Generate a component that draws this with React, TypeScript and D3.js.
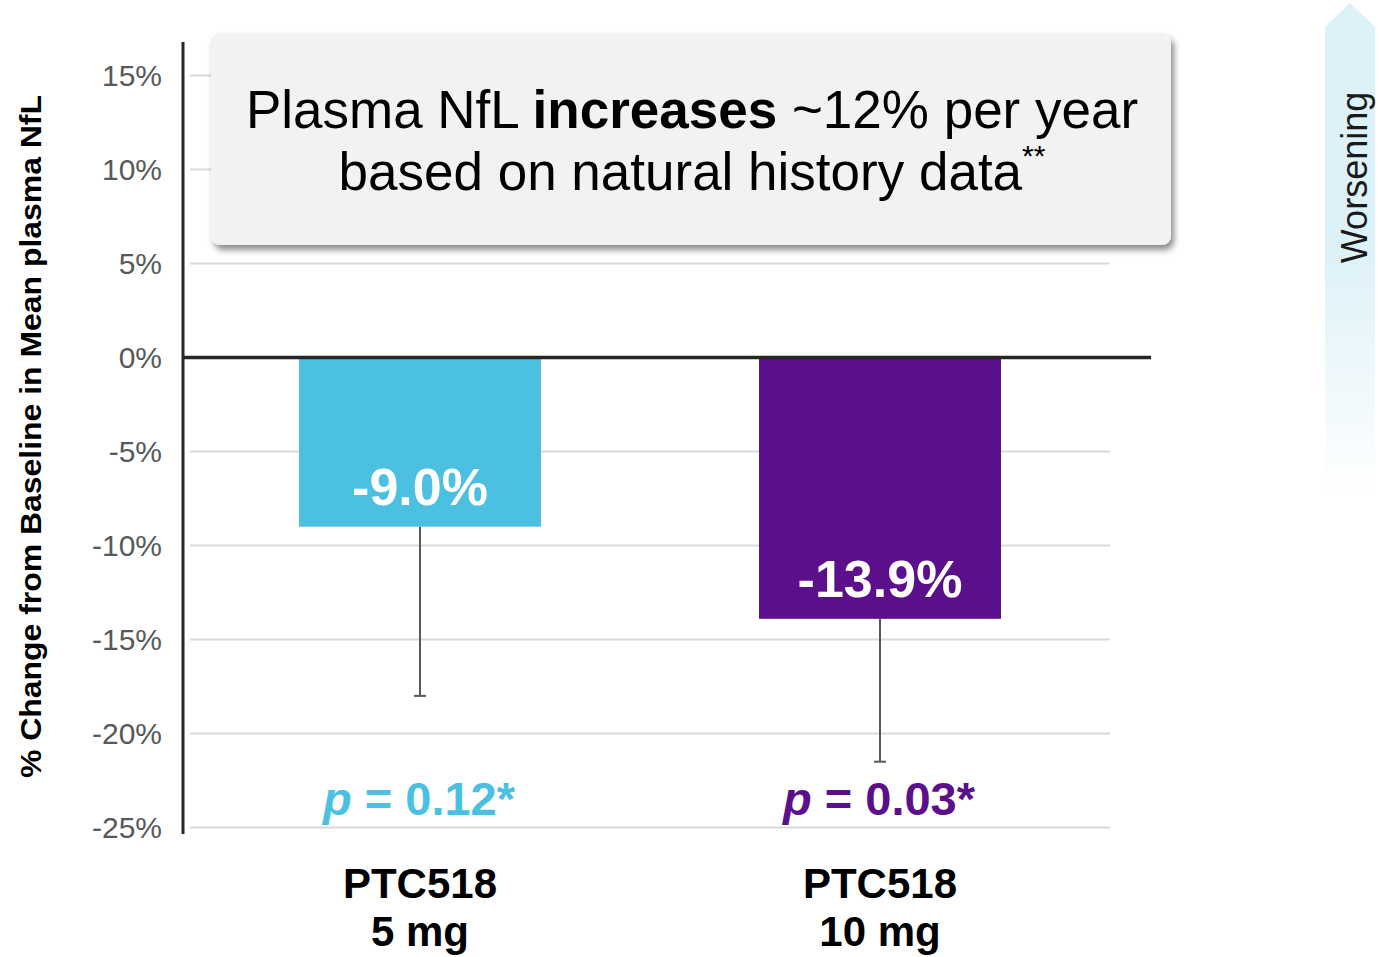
import React from "react";
import * as d3 from "d3";

const categories = ["PTC518 5 mg", "PTC518 10 mg"];
const labelLine1 = ["PTC518", "PTC518"];
const labelLine2 = ["5 mg", "10 mg"];
const values = [-9.0, -13.9];
const errorLow = [-18.0, -21.5];
const pValues = ["0.12*", "0.03*"];
const barColors = ["#4BC0E0", "#5B0F8B"];
const yTicks = [15, 10, 5, 0, -5, -10, -15, -20, -25];

const W = 1379;
const H = 957;
const FONT = "'Liberation Sans', Arial, Helvetica, sans-serif";

export default function App() {
  const y = d3.scaleLinear().domain([-25, 15]).range([827.5, 75.5]);
  const x = d3
    .scaleBand<string>()
    .domain(categories)
    .range([190, 1110])
    .paddingInner(0.474)
    .paddingOuter(0.237);
  const bw = x.bandwidth();

  return (
    <svg
      width={W}
      height={H}
      viewBox={`0 0 ${W} ${H}`}
      style={{ position: "absolute", left: 0, top: 0, display: "block", background: "#fff" }}
      fontFamily={FONT}
    >
      <defs>
        <filter id="shadow" x="-5%" y="-10%" width="115%" height="130%">
          <feDropShadow dx="3" dy="5" stdDeviation="3" floodColor="#000" floodOpacity="0.45" />
        </filter>
        <linearGradient id="arrowGrad" x1="0" y1="0" x2="0" y2="1">
          <stop offset="0" stopColor="#dcf1f8" />
          <stop offset="0.5" stopColor="#dcf1f8" />
          <stop offset="1" stopColor="#ffffff" />
        </linearGradient>
      </defs>

      {/* Worsening arrow */}
      <polygon points="1325,27 1350,3 1375,27 1375,492 1325,492" fill="url(#arrowGrad)" />
      <text
        transform={`translate(1367,177.5) rotate(-90)`}
        textAnchor="middle"
        fontSize={36}
        fill="#1a1a1a"
      >
        Worsening
      </text>

      {/* gridlines */}
      {yTicks.filter((t) => t !== 0).map((t) => (
        <line key={"g" + t} x1={190} x2={1110} y1={y(t)} y2={y(t)} stroke="#d9d9d9" strokeWidth={2} />
      ))}

      {/* tick labels */}
      {yTicks.map((t) => (
        <text key={"t" + t} x={162} y={y(t) + 10.5} textAnchor="end" fontSize={30} fill="#595959">
          {`${t}%`}
        </text>
      ))}

      {/* y axis title */}
      <text
        transform={`translate(41,436.5) rotate(-90)`}
        textAnchor="middle"
        fontSize={30}
        fontWeight="bold"
        fill="#000"
        textLength={683}
        lengthAdjust="spacingAndGlyphs"
      >
        % Change from Baseline in Mean plasma NfL
      </text>

      {/* bars */}
      {categories.map((c, i) => (
        <rect
          key={"b" + c}
          x={x(c)}
          y={y(0)}
          width={bw}
          height={y(values[i]) - y(0)}
          fill={barColors[i]}
        />
      ))}

      {/* error bars */}
      {categories.map((c, i) => {
        const cx = (x(c) as number) + bw / 2;
        return (
          <g key={"e" + c} stroke="#595959" strokeWidth={2}>
            <line x1={cx} x2={cx} y1={y(values[i])} y2={y(errorLow[i])} />
            <line x1={cx - 6} x2={cx + 6} y1={y(errorLow[i])} y2={y(errorLow[i])} />
          </g>
        );
      })}

      {/* axes */}
      <line x1={183} x2={183} y1={42} y2={834} stroke="#262626" strokeWidth={3} />
      <line x1={182} x2={1151} y1={y(0)} y2={y(0)} stroke="#262626" strokeWidth={3.5} />

      {/* value labels */}
      {categories.map((c, i) => (
        <text
          key={"v" + c}
          x={(x(c) as number) + bw / 2}
          y={y(values[i]) - 22}
          textAnchor="middle"
          fontSize={52}
          fontWeight="bold"
          fill="#fff"
        >
          {`${values[i].toFixed(1)}%`}
        </text>
      ))}

      {/* p values */}
      {categories.map((c, i) => (
        <text
          key={"p" + c}
          x={(x(c) as number) + bw / 2 - 1}
          y={815}
          textAnchor="middle"
          fontSize={47}
          fontWeight="bold"
          fill={barColors[i]}
        >
          <tspan fontStyle="italic">p</tspan>
          <tspan>{` = ${pValues[i]}`}</tspan>
        </text>
      ))}

      {/* x labels */}
      {categories.map((c, i) => (
        <g key={"x" + c}>
          <text x={(x(c) as number) + bw / 2} y={898} textAnchor="middle" fontSize={42} fontWeight="bold" fill="#000">
            {labelLine1[i]}
          </text>
          <text x={(x(c) as number) + bw / 2} y={946} textAnchor="middle" fontSize={42} fontWeight="bold" fill="#000">
            {labelLine2[i]}
          </text>
        </g>
      ))}

      {/* title box */}
      <rect x={211} y={33} width={960} height={212} rx={9} ry={9} fill="#f2f2f2" filter="url(#shadow)" />
      <text x={692} y={128} textAnchor="middle" fontSize={53} fill="#000">
        <tspan>Plasma NfL </tspan>
        <tspan fontWeight="bold">increases</tspan>
        <tspan> ~12% per year</tspan>
      </text>
      <text x={692} y={190} textAnchor="middle" fontSize={53} fill="#000">
        <tspan>based on natural history data</tspan>
        <tspan fontSize={30} dy={-24}>**</tspan>
      </text>
    </svg>
  );
}
